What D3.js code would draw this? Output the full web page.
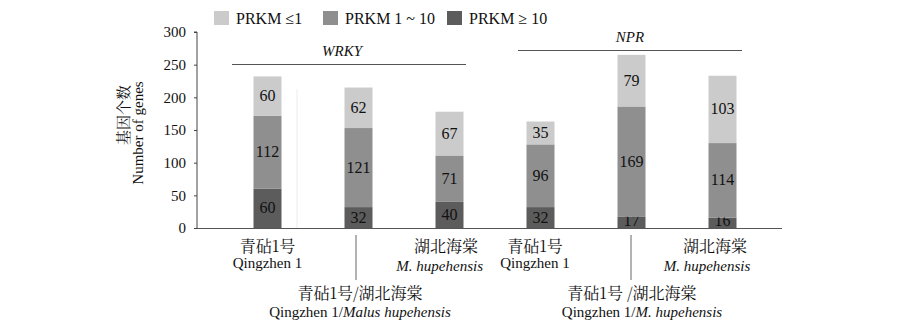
<!DOCTYPE html>
<html><head><meta charset="utf-8">
<script src="https://cdn.jsdelivr.net/npm/d3@7"></script>
<style>
body{margin:0;background:#fff;}
svg text{font-family:'Liberation Serif','DejaVu Serif',serif !important;fill:#111;}
svg text.cjk{font-family:'Noto Serif CJK SC','Noto Sans CJK SC',serif !important;}
</style></head>
<body><svg id="c" width="900" height="333" font-family="Liberation Serif"></svg>
<script>
const barIds = ["wrky_qz","wrky_cross","wrky_mh","npr_qz","npr_cross","npr_mh"];
const seriesNames = ["PRKM ≥ 10","PRKM 1 ~ 10","PRKM ≤1"];
const high = [60,32,40,32,17,16];
const mid = [112,121,71,96,169,114];
const low = [60,62,67,35,79,103];
const yTicks = [0,50,100,150,200,250,300];
const colors = ["#5c5c5c","#8f8f8f","#cbcbcb"];

const svg = d3.select("#c");
const y = d3.scaleLinear().domain([0,300]).range([228,32]);
const x = d3.scalePoint().domain(barIds).range([222,768]).padding(0.5);
const bw = 28;

svg.append("line").attr("x1",297).attr("x2",297).attr("y1",89).attr("y2",228)
  .attr("stroke","#ececec").attr("stroke-width",1);

const rows = barIds.map((id,i)=>({id, high:high[i], mid:mid[i], low:low[i]}));
const stack = d3.stack().keys(["high","mid","low"])(rows);
stack.forEach((layer,li)=>{
  const g = svg.append("g");
  g.selectAll("rect").data(layer).join("rect")
    .attr("x",d=>x(d.data.id)-bw/2).attr("width",bw)
    .attr("y",d=>y(d[1])).attr("height",d=>y(d[0])-y(d[1]))
    .attr("fill",colors[li]);
  g.selectAll("text").data(layer).join("text")
    .attr("x",d=>x(d.data.id)).attr("y",d=>{
      const c=(y(d[0])+y(d[1]))/2; return Math.min(c, 221)+5;})
    .attr("text-anchor","middle").attr("font-size",16)
    .text(d=>d[1]-d[0]);
});

const ax = svg.append("g").attr("transform","translate(197,0)")
  .call(d3.axisLeft(y).tickValues(yTicks).tickSize(3).tickPadding(8));
ax.attr("font-family",null);
ax.select(".domain").attr("stroke","#444").attr("d","M-3,32H0V228");
ax.selectAll(".tick line").attr("stroke","#444");
ax.selectAll(".tick text").attr("font-size",15).attr("fill","#111");

svg.append("line").attr("x1",197).attr("x2",782).attr("y1",228.5).attr("y2",228.5)
  .attr("stroke","#555").attr("stroke-width",1.2);

svg.append("text").attr("class","cjk").attr("transform","translate(129,115) rotate(-90)")
  .attr("text-anchor","middle").attr("font-size",15).text("基因个数");
svg.append("text").attr("transform","translate(143,133) rotate(-90)")
  .attr("text-anchor","middle").attr("font-size",15).text("Number of genes");

const legendX = [214,323,447];
const legendOrder = [2,1,0];
legendOrder.forEach((si,k)=>{
  svg.append("rect").attr("x",legendX[k]).attr("y",11).attr("width",15).attr("height",14).attr("fill",colors[si]);
  svg.append("text").attr("x",legendX[k]+22).attr("y",24).attr("font-size",16).text(seriesNames[si]);
});

svg.append("text").attr("x",342).attr("y",56).attr("text-anchor","middle").attr("font-size",15).attr("font-style","italic").text("WRKY");
svg.append("line").attr("x1",232).attr("x2",466).attr("y1",64.5).attr("y2",64.5).attr("stroke","#555");
svg.append("text").attr("x",630).attr("y",42).attr("text-anchor","middle").attr("font-size",15).attr("font-style","italic").text("NPR");
svg.append("line").attr("x1",518).attr("x2",742).attr("y1",50.5).attr("y2",50.5).attr("stroke","#555");

function lab(xp, yp, t, anchor, opts={}){
  const el = svg.append("text").attr("x",xp).attr("y",yp).attr("text-anchor",anchor)
    .attr("font-size",opts.size||15);
  if(opts.cjk) el.attr("class","cjk");
  if(opts.italic) el.attr("font-style","italic");
  if(opts.parts){ opts.parts.forEach(p=>{el.append("tspan").attr("font-style",p[1]?"italic":"normal").text(p[0]);}); }
  else el.text(t);
  return el;
}
lab(x("wrky_qz"),252,"青砧1号","middle",{cjk:true,size:16});
lab(x("wrky_qz"),268,"Qingzhen 1","middle");
lab(478,252,"湖北海棠","end",{cjk:true,size:16});
lab(483,271,"M. hupehensis","end",{italic:true});
lab(360,299,"青砧1号/湖北海棠","middle",{cjk:true,size:16});
lab(360,317,null,"middle",{parts:[["Qingzhen 1/",false],["Malus hupehensis",true]]});
svg.append("line").attr("x1",356).attr("x2",356).attr("y1",235).attr("y2",280).attr("stroke","#666");
lab(535,252,"青砧1号","middle",{cjk:true,size:16});
lab(535,268,"Qingzhen 1","middle");
lab(715,252,"湖北海棠","middle",{cjk:true,size:16});
lab(707,271,"M. hupehensis","middle",{italic:true});
lab(632,299,"青砧1号 /湖北海棠","middle",{cjk:true,size:16});
lab(642,317,null,"middle",{parts:[["Qingzhen 1/",false],["M. hupehensis",true]]});
svg.append("line").attr("x1",631).attr("x2",631).attr("y1",235).attr("y2",280).attr("stroke","#666");
</script></body></html>
